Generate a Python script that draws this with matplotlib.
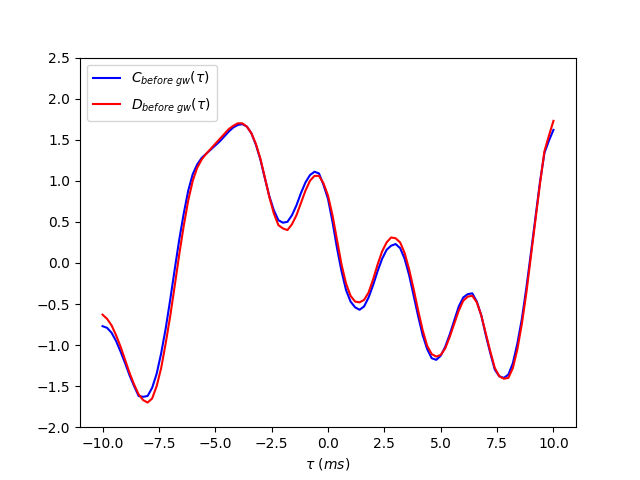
import numpy as np
import matplotlib
matplotlib.use("Agg")
import matplotlib.pyplot as plt

tau = np.linspace(-10, 10, 101)

C = [-0.77, -0.79, -0.85, -0.95, -1.08, -1.22, -1.37, -1.50, -1.62, -1.63,
     -1.62, -1.52, -1.35, -1.10, -0.80, -0.45, -0.08, 0.28, 0.60, 0.88,
     1.08, 1.20, 1.28, 1.33, 1.38, 1.43, 1.48, 1.54, 1.60, 1.65,
     1.68, 1.69, 1.66, 1.58, 1.44, 1.26, 1.03, 0.81, 0.64, 0.52,
     0.49, 0.50, 0.58, 0.70, 0.85, 0.98, 1.07, 1.11, 1.09, 0.95,
     0.78, 0.50, 0.18, -0.10, -0.33, -0.47, -0.54, -0.57, -0.53, -0.42,
     -0.27, -0.10, 0.05, 0.16, 0.21, 0.23, 0.18, 0.05, -0.15, -0.40,
     -0.65, -0.88, -1.05, -1.16, -1.18, -1.13, -1.02, -0.87, -0.70, -0.53,
     -0.42, -0.38, -0.37, -0.47, -0.64, -0.88, -1.10, -1.30, -1.38, -1.40,
     -1.36, -1.22, -0.98, -0.68, -0.30, 0.12, 0.55, 0.98, 1.34, 1.49,
     1.62]

D = [-0.63, -0.68, -0.76, -0.88, -1.02, -1.18, -1.34, -1.48, -1.60, -1.67,
     -1.70, -1.65, -1.50, -1.28, -0.98, -0.65, -0.28, 0.10, 0.45, 0.76,
     1.00, 1.16, 1.26, 1.33, 1.39, 1.45, 1.51, 1.57, 1.63, 1.67,
     1.70, 1.70, 1.66, 1.58, 1.45, 1.27, 1.04, 0.80, 0.60, 0.46,
     0.42, 0.40, 0.47, 0.58, 0.73, 0.88, 1.00, 1.06, 1.06, 0.97,
     0.82, 0.58, 0.28, -0.02, -0.25, -0.40, -0.47, -0.48, -0.45, -0.36,
     -0.20, -0.02, 0.14, 0.25, 0.31, 0.30, 0.25, 0.12, -0.08, -0.32,
     -0.58, -0.82, -1.01, -1.11, -1.14, -1.12, -1.04, -0.90, -0.74, -0.58,
     -0.46, -0.41, -0.40, -0.48, -0.64, -0.86, -1.08, -1.28, -1.38, -1.41,
     -1.40, -1.28, -1.05, -0.74, -0.36, 0.08, 0.52, 0.96, 1.36, 1.55,
     1.73]

fig, ax = plt.subplots(figsize=(6.4, 4.8), dpi=100)
ax.plot(tau, C, color="blue", label=r"$C_{before\ gw}(\tau)$")
ax.plot(tau, D, color="red", label=r"$D_{before\ gw}(\tau)$")
ax.set_ylim(-2.0, 2.5)
ax.set_xlabel(r"$\tau\ (ms)$")
ax.legend(loc="upper left")
fig.savefig("out.png")
